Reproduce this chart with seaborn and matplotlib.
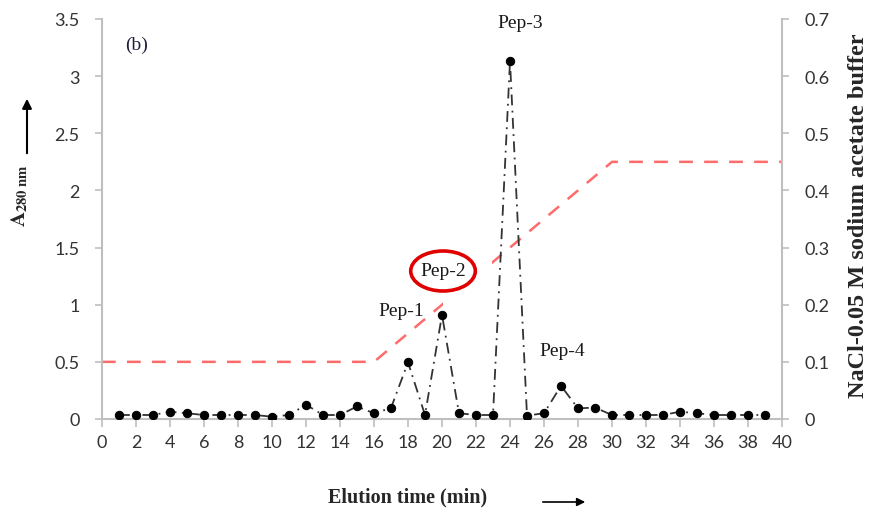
import numpy as np
import pandas as pd
import matplotlib
matplotlib.use("Agg")
import matplotlib.pyplot as plt
from matplotlib.patches import Ellipse, Rectangle
import seaborn as sns

# ---- data ----
time_min = list(range(1, 40))
a280 = [0.035, 0.035, 0.035, 0.064, 0.05, 0.035, 0.035, 0.035, 0.035, 0.02,
        0.035, 0.125, 0.035, 0.035, 0.11, 0.05, 0.096, 0.496, 0.035, 0.91,
        0.05, 0.035, 0.035, 3.13, 0.03, 0.05, 0.29, 0.093, 0.10, 0.035,
        0.035, 0.035, 0.035, 0.064, 0.05, 0.035, 0.035, 0.035, 0.035]
grad_time = [0, 16, 30, 40]
grad_nacl = [0.1, 0.1, 0.45, 0.45]
x_ticks = list(range(0, 41, 2))
y_ticks = [0, 0.5, 1, 1.5, 2, 2.5, 3, 3.5]
y_tick_labels = ["0", "0.5", "1", "1.5", "2", "2.5", "3", "3.5"]
y2_ticks = [0, 0.1, 0.2, 0.3, 0.4, 0.5, 0.6, 0.7]
y2_tick_labels = ["0", "0.1", "0.2", "0.3", "0.4", "0.5", "0.6", "0.7"]
peaks = ["Pep-1", "Pep-2", "Pep-3", "Pep-4"]
peak_x = [17.6, 20.06, 24.6, 27.1]
peak_y = [0.945, 1.295, 3.47, 0.60]

df = pd.DataFrame({"t": time_min, "a": a280})
gdf = pd.DataFrame({"t": grad_time, "c": grad_nacl})

sns.set_style("white")
plt.rcParams["font.family"] = ["Lato", "DejaVu Sans"]
plt.rcParams["mathtext.fontset"] = "stix"

W, H = 873, 510
fig = plt.figure(figsize=(W / 100, H / 100), dpi=100)
ax1 = fig.add_axes([102 / W, 1 - 420 / H, (782 - 102) / W, 400 / H])
ax2 = ax1.twinx()
ax1.set_zorder(ax2.get_zorder() + 1)
ax1.patch.set_visible(False)

spine_c = "#bfbfbf"
tick_c = "#333333"

sns.lineplot(data=gdf, x="t", y="c", ax=ax2, color="#ff6b6b", lw=1.8,
             linestyle=(0, (5.5, 4.5)))
sns.lineplot(data=df, x="t", y="a", ax=ax1, color="#333333", lw=1.3,
             linestyle=(0, (6, 3, 1, 3)), marker="o", markersize=6,
             markerfacecolor="black", markeredgecolor="black", zorder=3)

ax1.set_xlim(0, 40)
ax1.set_ylim(0, 3.5)
ax2.set_ylim(0, 0.7)
ax1.set_xticks(x_ticks)
ax1.set_xticklabels([str(v) for v in x_ticks])
ax1.set_yticks(y_ticks)
ax1.set_yticklabels(y_tick_labels)
ax2.set_yticks(y2_ticks)
ax2.set_yticklabels(y2_tick_labels)
ax1.set_xlabel("")
ax1.set_ylabel("")
ax2.set_ylabel("")

for ax in (ax1, ax2):
    for s in ax.spines.values():
        s.set_visible(False)
ax1.spines["left"].set_visible(True)
ax1.spines["bottom"].set_visible(True)
ax2.spines["right"].set_visible(True)
for s in (ax1.spines["left"], ax1.spines["bottom"], ax2.spines["right"]):
    s.set_color(spine_c)
    s.set_linewidth(1.5)

ax1.tick_params(axis="x", direction="out", length=6, width=1.2, color=spine_c,
                labelsize=13, labelcolor=tick_c, pad=5, bottom=True)
ax1.tick_params(axis="y", direction="out", length=5, width=1.2, color=spine_c,
                labelsize=13, labelcolor=tick_c, pad=11, left=True)
ax2.tick_params(axis="y", direction="out", length=5, width=1.2, color=spine_c,
                labelsize=13, labelcolor=tick_c, pad=11, right=True)

# white box hiding part of gradient line behind the Pep-2 label
ax1.add_patch(Rectangle((20.05, 0.95), 2.9, 0.5, facecolor="white",
                        edgecolor="none", zorder=1.5))
ax1.add_patch(Ellipse((20.06, 1.295), 3.8, 0.35, facecolor="white",
                      edgecolor="#e00000", lw=2.6, zorder=4))

serif = ["Liberation Serif", "DejaVu Serif"]
for name, px, py in zip(peaks, peak_x, peak_y):
    ax1.text(px, py, name, ha="center", va="center", fontsize=14,
             family=serif, color="#1a1a1a", zorder=5, clip_on=False)
ax1.text(2.06, 3.28, "(b)", ha="center", va="center", fontsize=14,
         family=serif, color="#1f1f3f", zorder=5)

# axis titles
fig.text(408 / W, 1 - 497 / H, "Elution time (min)", ha="center", va="center",
         fontsize=14.5, fontweight="bold", family=serif)
fig.text(858 / W, 1 - 216 / H, "NaCl-0.05 M sodium acetate buffer",
         ha="center", va="center", rotation=90, fontsize=17.5,
         fontweight="bold", family=serif)
fig.text(20 / W, 1 - 196 / H, r"$\mathbf{A}_{\mathbf{280\ nm}}$",
         ha="center", va="center", rotation=90, fontsize=15)
fig.add_artist(matplotlib.patches.FancyArrowPatch(
    (27 / W, 1 - 157 / H), (27 / W, 1 - 97 / H), transform=fig.transFigure,
    arrowstyle="-|>", mutation_scale=14, color="black", lw=1.5))
fig.add_artist(matplotlib.patches.FancyArrowPatch(
    (540 / W, 1 - 503 / H), (588 / W, 1 - 503 / H), transform=fig.transFigure,
    arrowstyle="-|>", mutation_scale=12, color="black", lw=1.2))

fig.savefig("out.png", dpi=100)
